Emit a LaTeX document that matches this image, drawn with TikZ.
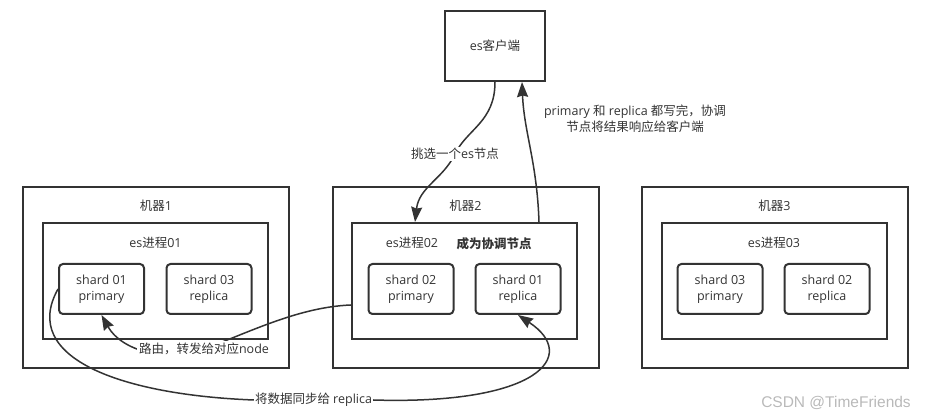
\documentclass[tikz,border=0pt]{standalone}
\usepackage{fontspec}
\setmainfont{Open Sans}
\newfontfamily\cjk{Noto Sans CJK SC}
\newfontfamily\marksans{Liberation Sans}
\usetikzlibrary{positioning,calc,arrows.meta}
\pgfdeclarelayer{background}
\pgfsetlayers{background,main}
\definecolor{ink}{HTML}{333333}

\begin{document}
\begin{tikzpicture}[x=1pt,y=-1pt,font=\fontsize{12.5}{16}\selectfont,text=ink]
\tikzstyle{machine}=[draw=ink,line width=2pt,minimum width=266pt,minimum height=181pt]
\tikzstyle{proc}=[draw=ink,line width=2pt,minimum width=225pt,minimum height=116pt]
\tikzstyle{shard}=[draw=ink,line width=2pt,rounded corners=4pt,minimum width=85pt,minimum height=50pt,inner sep=0pt,align=center]
\tikzstyle{conn}=[draw=ink,line width=1.5pt,-{Stealth[length=15pt,width=11pt,inset=1.5pt]}]
\tikzstyle{tag}=[inner sep=1pt,align=center]
\useasboundingbox (0,0) rectangle (927,419);

% client
\node[draw=ink,line width=2pt,minimum width=100pt,minimum height=70pt] (cl) at (495,46) {es{\cjk 客户端}};

% machines
\node[machine] (m1) at (156,277.5) {};
\node[machine] (m2) at (465.5,277.5) {};
\node[machine] (m3) at (774.5,277.5) {};
\node[below=10pt of m1.north] {{\cjk 机器}1};
\node[below=10pt of m2.north] {{\cjk 机器}2};
\node[below=10pt of m3.north] {{\cjk 机器}3};

% es processes
\node[proc] (p1) at (155.5,281) {};
\node[proc] (p2) at (464.5,281) {};
\node[proc] (p3) at (774,281) {};
\node[below=12pt of p1.north] {es{\cjk 进程}01};
\node[below=12pt of p2.north west,xshift=61pt] {es{\cjk 进程}02};
\node[below=12pt of p2.north west,xshift=143pt] {\cjk\bfseries 成为协调节点};
\node[below=12pt of p3.north] {es{\cjk 进程}03};

% shards
\node[shard] (s1a) at (101.5,289) {shard 01\\primary};
\node[shard] (s1b) at (209,289) {shard 03\\replica};
\node[shard] (s2a) at (411,289) {shard 02\\primary};
\node[shard] (s2b) at (518,289) {shard 01\\replica};
\node[shard] (s3a) at (720,289) {shard 03\\primary};
\node[shard] (s3b) at (827,289) {shard 02\\replica};

% labels
\node[tag,fill=white] (pick) at (455,154) {{\cjk 挑选一个}es{\cjk 节点}};
\node[tag] (resp) at (635,119) {primary {\cjk 和} replica {\cjk 都写完，协调}\\{\cjk 节点将结果响应给客户端}};
\node[tag,fill=white,inner sep=2pt] (route) at (204,349) {{\cjk 路由，转发给对应}node};
\node[tag] (sync) at (313.5,400) {{\cjk 将数据同步给} replica};
\node[text=gray!55,font=\fontsize{15.5}{17}\marksans] (mark) at (836,403) {CSDN @TimeFriends};

\begin{pgfonlayer}{background}
\draw[conn] (cl.south) .. controls +(0,40) and +(12,-25) .. (pick.center)
  .. controls +(-12,25) and +(4,-35) .. ($(p2.north west)+(64,0)$);
\draw[conn] ($(p2.north west)+(188,0)$) .. controls +(-2,-60) and +(2,50) .. ($(cl.south west)+(78,0)$);
\draw[conn] ($(p2.west)+(0,24)$) .. controls +(-52,2) and +(46,-17) .. (route.center)
  .. controls +(-37,14) and +(20,36) .. (s1a.south);
\draw[conn] (s1a.west) .. controls +(-39,70) and +(-130,-5) .. (sync.west)
  (sync.east) .. controls +(165,5) and +(62,41) .. (s2b.south);
\end{pgfonlayer}
\end{tikzpicture}
\end{document}
